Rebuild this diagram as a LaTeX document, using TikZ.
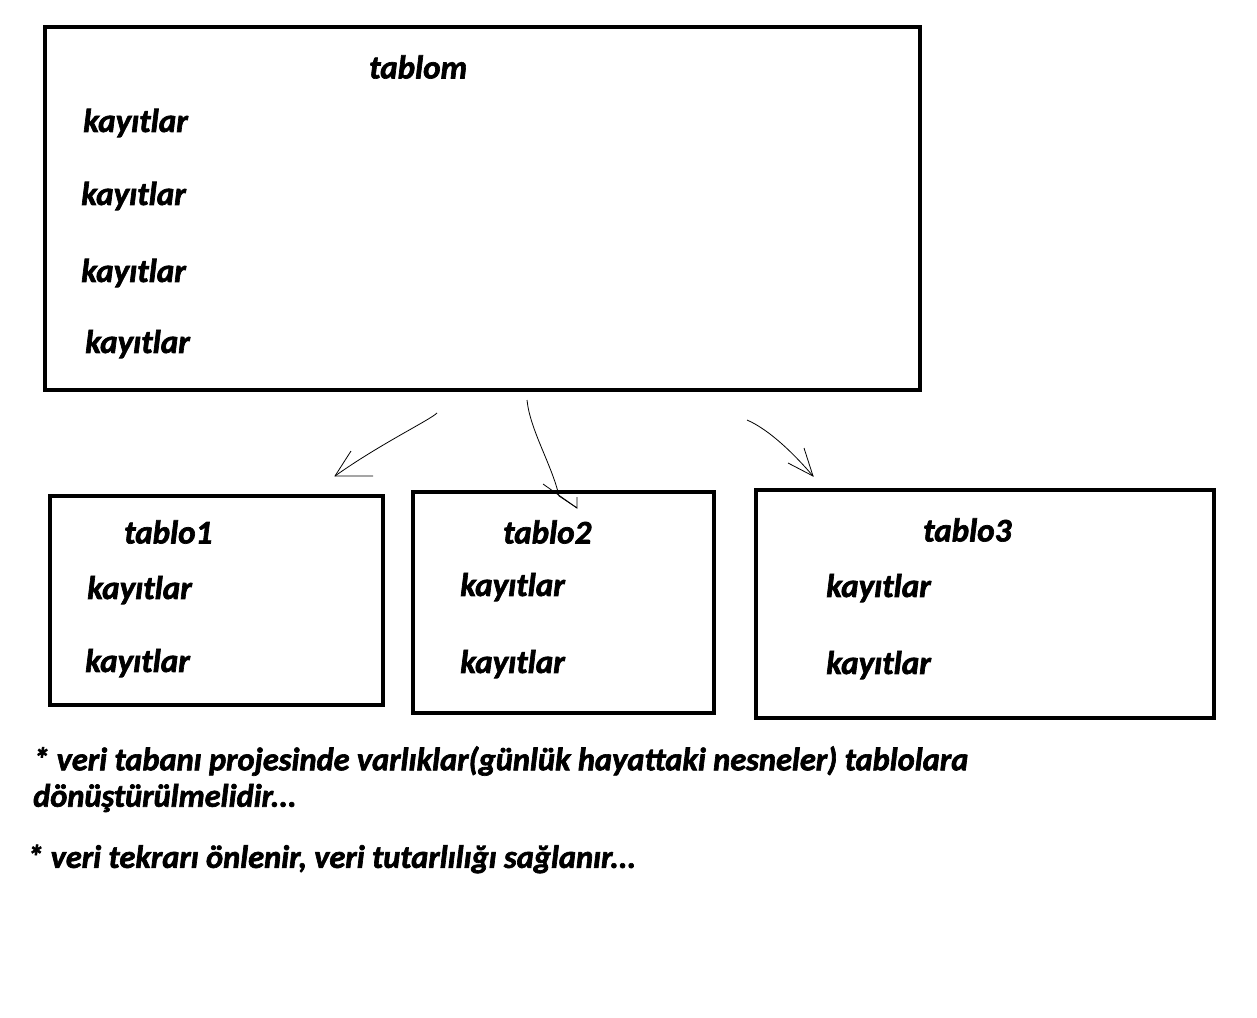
\documentclass[tikz,border=0pt]{standalone}
\usepackage{fontspec}
\newfontfamily\calbi{Carlito Bold Italic}[FakeBold=2]
\tikzset{
  tablebox/.style={draw, line width=4pt},
  label/.style={anchor=west, inner sep=0pt, font=\fontsize{33}{38}\selectfont\calbi},
  note/.style={anchor=west, inner sep=0pt, font=\fontsize{32.4}{38}\selectfont\calbi},
  pen/.style={line width=0.8pt}
}
\begin{document}
\begin{tikzpicture}[x=1pt,y=-1pt]
        \useasboundingbox (0,0) rectangle (1257,1017);
        % Main table with its records
        \draw[tablebox] (45,27) rectangle (920,390);
        \node[label] (tablom) at (369,67) {tablom};
        \node[label] (m1) at (83,123) {kayıtlar};
        \node[label] (m2) at (81,196) {kayıtlar};
        \node[label] (m3) at (81,273) {kayıtlar};
        \node[label] (m4) at (85,344) {kayıtlar};
        % The three smaller tables
        \draw[tablebox] (50,496) rectangle (383,705);
        \node[label] (tabloA) at (124,532) {tablo1};
        \node[label] (a1) at (87,590) {kayıtlar};
        \node[label] (a2) at (85,663) {kayıtlar};
        \draw[tablebox] (413,492) rectangle (714,713);
        \node[label] (tabloB) at (503,532) {tablo2};
        \node[label] (b1) at (460,587) {kayıtlar};
        \node[label] (b2) at (460,664) {kayıtlar};
        \draw[tablebox] (756,490) rectangle (1214,718);
        \node[label] (tabloC) at (923,530) {tablo3};
        \node[label] (c1) at (826,588) {kayıtlar};
        \node[label] (c2) at (826,665) {kayıtlar};
        % Hand drawn arrows
        \coordinate (s1) at (437,413);
        \coordinate (t1) at (335,476);
        \draw[pen] (s1) .. controls (430,420) and (380,444) .. (t1);
        \draw[pen] (351,451) -- (t1) -- (373,476);
        \coordinate (s2) at (527,400);
        \coordinate (t2) at (577,508);
        \draw[pen] (s2) .. controls (530,430) and (552,465) .. (559,496) -- (t2);
        \draw[pen] (543,484) -- (t2) -- (577,497);
        \coordinate (s3) at (747,420);
        \coordinate (t3) at (813,476);
        \draw[pen] (s3) .. controls (770,430) and (795,455) .. (t3);
        \draw[pen] (804,448) -- (t3) -- (788,463);
        % Notes below
        \node[note] (n1) at (33,761) {* veri tabanı projesinde varlıklar(günlük hayattaki nesneler) tablolara};
        \node[note] (n2) at (33,798) {dönüştürülmelidir...};
        \node[note] (n3) at (27,859) {* veri tekrarı önlenir, veri tutarlılığı sağlanır...};
\end{tikzpicture}
\end{document}
